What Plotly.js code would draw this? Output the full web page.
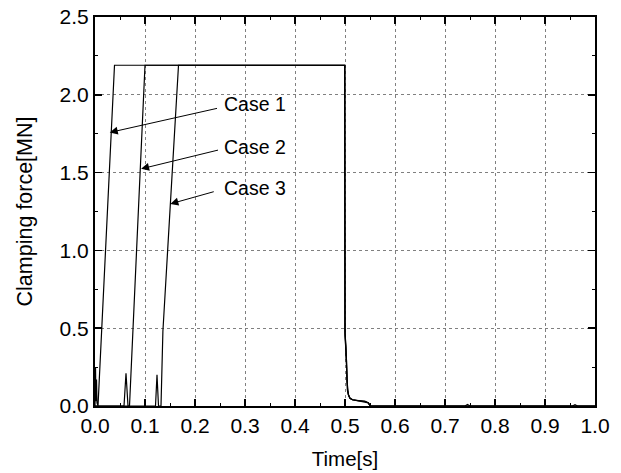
<!DOCTYPE html>
<html>
<head>
<meta charset="utf-8">
<script src="https://cdn.plot.ly/plotly-3.0.1.min.js"></script>
<style>html,body{margin:0;padding:0;background:#fff;}#chart{width:621px;height:473px;}</style>
</head>
<body>
<div id="chart"></div>
<script>
// Case 1 clamping force history
var case1Time  = [0, 0.001, 0.002, 0.003, 0.004, 0.005, 0.006, 0.039, 0.4995, 0.5, 0.501, 0.503, 0.504, 0.505, 0.507, 0.51, 0.515, 0.525, 0.54, 0.547, 0.55, 1.0];
var case1Force = [0, 0.25, 0.03, 0.17, 0.02, 0, 0, 2.19, 2.19, 0.49, 0.42, 0.3, 0.17, 0.1, 0.07, 0.05, 0.04, 0.035, 0.03, 0.02, 0, 0];
// Case 2
var case2Time  = [0, 0.058, 0.062, 0.066, 0.069, 0.100, 0.4995, 0.5, 0.502, 0.503, 0.504, 0.505, 0.507, 0.51, 0.515, 0.525, 0.54, 0.547, 0.55, 0.74, 0.745, 0.75, 1.0];
var case2Force = [0, 0, 0.21, 0, 0, 2.19, 2.19, 0.47, 0.38, 0.28, 0.16, 0.1, 0.07, 0.05, 0.04, 0.035, 0.028, 0.02, 0, 0, 0.01, 0, 0];
// Case 3
var case3Time  = [0, 0.121, 0.124, 0.127, 0.132, 0.1345, 0.1352, 0.1358, 0.167, 0.4995, 0.5, 0.501, 0.503, 0.504, 0.505, 0.507, 0.51, 0.515, 0.525, 0.54, 0.547, 0.55, 0.955, 0.96, 0.965, 1.0];
var case3Force = [0, 0, 0.2, 0, 0, 0.44, 0.44, 0.48, 2.19, 2.19, 0.45, 0.4, 0.29, 0.16, 0.1, 0.07, 0.05, 0.04, 0.035, 0.03, 0.02, 0, 0, 0.008, 0, 0];

var caseNames = ['Case 1', 'Case 2', 'Case 3'];
var labelX = [0.2545, 0.2545, 0.2545];
var labelY = [1.944, 1.662, 1.402];
var arrowHeadX = [0.0295, 0.0922, 0.1507];
var arrowHeadY = [1.758, 1.524, 1.299];
var arrowTailX = [0.247, 0.249, 0.2405];
var arrowTailY = [1.915, 1.647, 1.380];

var xTicks = [0.0, 0.1, 0.2, 0.3, 0.4, 0.5, 0.6, 0.7, 0.8, 0.9, 1.0];
var xTickText = ['0.0', '0.1', '0.2', '0.3', '0.4', '0.5', '0.6', '0.7', '0.8', '0.9', '1.0'];
var yTicks = [0.0, 0.5, 1.0, 1.5, 2.0, 2.5];
var yTickText = ['0.0', '0.5', '1.0', '1.5', '2.0', '2.5'];

var times = [case1Time, case2Time, case3Time];
var forces = [case1Force, case2Force, case3Force];

var data = times.map(function (t, i) {
  return {
    x: t, y: forces[i], type: 'scatter', mode: 'lines', name: caseNames[i],
    line: {color: '#000000', width: 1.2}, showlegend: false, hoverinfo: 'skip'
  };
});

var annotations = [];
caseNames.forEach(function (n, i) {
  annotations.push({
    x: labelX[i], y: labelY[i], xref: 'x', yref: 'y', text: n, showarrow: false,
    xanchor: 'left', yanchor: 'middle', font: {size: 19.5, color: '#000'}
  });
  annotations.push({
    x: arrowHeadX[i], y: arrowHeadY[i], xref: 'x', yref: 'y',
    ax: arrowTailX[i], ay: arrowTailY[i], axref: 'x', ayref: 'y',
    text: '', showarrow: true, arrowhead: 2, arrowsize: 1.6, arrowwidth: 1, arrowcolor: '#000'
  });
});

var fontFam = 'Liberation Sans, Arial, Helvetica, sans-serif';
var layout = {
  width: 621, height: 473,
  margin: {l: 94.5, r: 25.5, t: 16.5, b: 67, pad: 0},
  paper_bgcolor: '#fff', plot_bgcolor: '#fff',
  font: {family: fontFam, size: 21, color: '#000'},
  showlegend: false,
  xaxis: {
    range: [0, 1], tickvals: xTicks, ticktext: xTickText,
    ticks: 'inside', ticklen: 7, tickwidth: 1.5, tickcolor: '#000',
    showline: true, linewidth: 2, linecolor: '#000', mirror: 'ticks',
    showgrid: true, gridcolor: '#808080', griddash: 'dot', gridwidth: 1,
    zeroline: false,
    minor: {ticks: 'inside', ticklen: 3, dtick: 0.05, tick0: 0, tickcolor: '#000', tickwidth: 1, showgrid: false},
    title: {text: 'Time[s]', font: {size: 20.5}, standoff: 15},
    tickfont: {size: 21}
  },
  yaxis: {
    range: [0, 2.5], tickvals: yTicks, ticktext: yTickText,
    ticks: 'inside', ticklen: 7, tickwidth: 1.5, tickcolor: '#000',
    showline: true, linewidth: 2, linecolor: '#000', mirror: 'ticks',
    showgrid: true, gridcolor: '#808080', griddash: 'dot', gridwidth: 1,
    zeroline: false,
    minor: {ticks: 'inside', ticklen: 3, dtick: 0.25, tick0: 0, tickcolor: '#000', tickwidth: 1, showgrid: false},
    title: {text: 'Clamping force[MN]', font: {size: 21.5}, standoff: 21},
    tickfont: {size: 21}
  },
  annotations: annotations
};

Plotly.newPlot('chart', data, layout, {staticPlot: true, displayModeBar: false});
</script>
</body>
</html>
